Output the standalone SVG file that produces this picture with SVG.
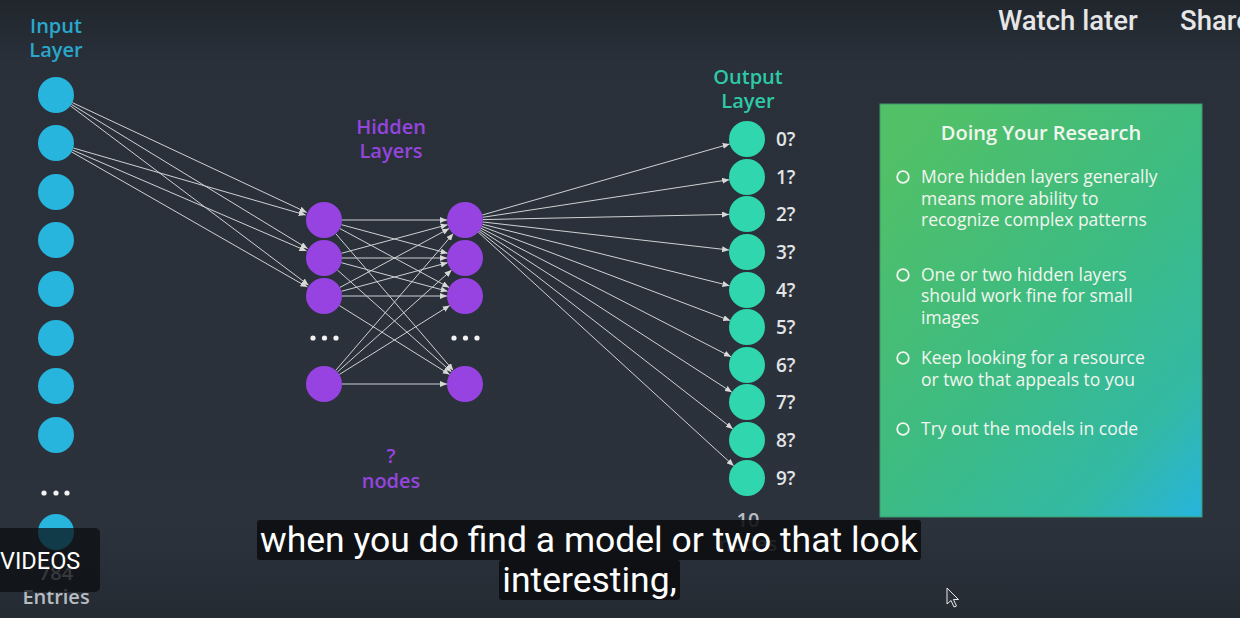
<svg xmlns="http://www.w3.org/2000/svg" width="1240" height="618" viewBox="0 0 1240 618">
<defs>
<linearGradient id="bg" x1="0" y1="0" x2="0" y2="1">
<stop offset="0" stop-color="#20262c"/>
<stop offset="0.1" stop-color="#29303a"/>
<stop offset="0.85" stop-color="#2b323c"/>
<stop offset="1" stop-color="#252b33"/>
</linearGradient>
<linearGradient id="panel" x1="0.15" y1="0" x2="1" y2="1">
<stop offset="0" stop-color="#52c066"/>
<stop offset="0.5" stop-color="#3cbb84"/>
<stop offset="0.8" stop-color="#33b9a4"/>
<stop offset="1" stop-color="#27b4dd"/>
</linearGradient>
<marker id="ah" markerUnits="userSpaceOnUse" markerWidth="7" markerHeight="6" refX="7" refY="3" orient="auto">
<path d="M0,0 L7,3 L0,6 z" fill="#d8d8d8"/>
</marker>
<style>
.lbl{font-family:"Open Sans","Liberation Sans",sans-serif;font-size:20px;font-weight:600;text-anchor:middle}
.in{fill:#27b4dd}
.hid{fill:#9643e2}
.out{fill:#2fd6ae}
.dot{fill:#f2f2f2}
.num{font-family:"Open Sans","Liberation Sans",sans-serif;font-size:19px;font-weight:600;fill:#e2e4e6}
.edge line{stroke:#cfd2d4;stroke-width:1;marker-end:url(#ah)}
.ptxt{font-family:"Open Sans","Liberation Sans",sans-serif;font-size:17.5px;fill:#f2f6ef}
.bul{fill:none;stroke:#f2f6ef;stroke-width:1.8}
.sub{font-family:Roboto,"Liberation Sans",sans-serif;font-size:35.5px;fill:#ffffff;text-anchor:middle}
.subbox{fill:#0b0d0f;fill-opacity:0.88}
.yt{font-family:Roboto,"Liberation Sans",sans-serif;font-size:27.5px;font-weight:500;fill:#e6e6e6}
</style>
</defs>
<rect width="1240" height="618" fill="url(#bg)"/>

<g id="labels">
<text class="lbl" x="56" y="33" fill="#2aa7cc">Input</text>
<text class="lbl" x="56" y="57" fill="#2aa7cc">Layer</text>
<text class="lbl" x="391" y="134" fill="#9445dc">Hidden</text>
<text class="lbl" x="391" y="158" fill="#9445dc">Layers</text>
<text class="lbl" x="748" y="84" fill="#2ec9a6">Output</text>
<text class="lbl" x="748" y="108" fill="#2ec9a6">Layer</text>
<text class="lbl" x="391" y="463" fill="#9445dc" font-size="18">?</text>
<text class="lbl" x="391" y="488" fill="#9445dc">nodes</text>
<text class="lbl" x="56" y="580" fill="#a9aeb4">784</text>
<text class="lbl" x="56" y="604" fill="#b8bcc1">Entries</text>
<text class="lbl" x="748" y="527" fill="#b8bcc1">10</text>
<text class="lbl" x="748" y="551" fill="#b8bcc1">nodes</text>
</g>

<g id="connectors" class="edge">
<line x1="72.3" y1="102.6" x2="306.7" y2="212.4"/>
<line x1="71.4" y1="104.4" x2="307.6" y2="248.6"/>
<line x1="70.4" y1="105.8" x2="308.6" y2="285.2"/>
<line x1="73.3" y1="148" x2="305.7" y2="215"/>
<line x1="72.5" y1="150.1" x2="306.5" y2="250.9"/>
<line x1="71.6" y1="151.9" x2="307.4" y2="287.1"/>

<line x1="342" y1="220" x2="447" y2="220"/>
<line x1="341.4" y1="224.7" x2="447.6" y2="253.3"/>
<line x1="339.8" y1="228.5" x2="449.2" y2="287.5"/>
<line x1="335.7" y1="233.6" x2="453.3" y2="370.4"/>
<line x1="341.4" y1="253.3" x2="447.6" y2="224.7"/>
<line x1="342" y1="258" x2="447" y2="258"/>
<line x1="341.4" y1="262.7" x2="447.6" y2="291.3"/>
<line x1="337.4" y1="270" x2="451.6" y2="372"/>
<line x1="339.8" y1="287.5" x2="449.2" y2="228.5"/>
<line x1="341.4" y1="291.3" x2="447.6" y2="262.7"/>
<line x1="342" y1="296" x2="447" y2="296"/>
<line x1="339.3" y1="305.5" x2="449.7" y2="374.5"/>
<line x1="335.7" y1="370.4" x2="453.3" y2="233.6"/>
<line x1="337.4" y1="372" x2="451.6" y2="270"/>
<line x1="339.3" y1="374.5" x2="449.7" y2="305.5"/>
<line x1="342" y1="384" x2="447" y2="384"/>

<line x1="482.3" y1="215" x2="729.7" y2="144"/>
<line x1="482.8" y1="217.3" x2="729.2" y2="179.7"/>
<line x1="483" y1="219.6" x2="729" y2="214.4"/>
<line x1="482.9" y1="222" x2="729.1" y2="250"/>
<line x1="482.5" y1="224.3" x2="729.5" y2="285.7"/>
<line x1="481.8" y1="226.4" x2="730.2" y2="320.6"/>
<line x1="481" y1="228.2" x2="731" y2="356.8"/>
<line x1="480.1" y1="229.8" x2="731.9" y2="392.2"/>
<line x1="479.2" y1="231.1" x2="732.8" y2="428.9"/>
<line x1="478.3" y1="232.2" x2="733.7" y2="465.8"/>
</g>

<g id="input-layer">
<circle id="in1" class="in" cx="56" cy="95" r="18"/>
<circle id="in2" class="in" cx="56" cy="143" r="18"/>
<circle id="in3" class="in" cx="56" cy="192" r="18"/>
<circle id="in4" class="in" cx="56" cy="240" r="18"/>
<circle id="in5" class="in" cx="56" cy="289" r="18"/>
<circle id="in6" class="in" cx="56" cy="338" r="18"/>
<circle id="in7" class="in" cx="56" cy="386" r="18"/>
<circle id="in8" class="in" cx="56" cy="435" r="18"/>
<g id="in-dots"><circle class="dot" cx="44" cy="493" r="2.6"/><circle class="dot" cx="56" cy="493" r="2.6"/><circle class="dot" cx="67" cy="493" r="2.6"/></g>
<circle id="in784" class="in" cx="56" cy="532" r="18"/>
</g>

<g id="hidden-layer-1">
<circle id="h1a" class="hid" cx="324" cy="220" r="18"/>
<circle id="h1b" class="hid" cx="324" cy="258" r="18"/>
<circle id="h1c" class="hid" cx="324" cy="296" r="18"/>
<g id="h1-dots"><circle class="dot" cx="313" cy="338" r="2.6"/><circle class="dot" cx="324.5" cy="338" r="2.6"/><circle class="dot" cx="336" cy="338" r="2.6"/></g>
<circle id="h1n" class="hid" cx="324" cy="384" r="18"/>
</g>

<g id="hidden-layer-2">
<circle id="h2a" class="hid" cx="465" cy="220" r="18"/>
<circle id="h2b" class="hid" cx="465" cy="258" r="18"/>
<circle id="h2c" class="hid" cx="465" cy="296" r="18"/>
<g id="h2-dots"><circle class="dot" cx="454" cy="338" r="2.6"/><circle class="dot" cx="465.5" cy="338" r="2.6"/><circle class="dot" cx="477" cy="338" r="2.6"/></g>
<circle id="h2n" class="hid" cx="465" cy="384" r="18"/>
</g>

<g id="output-layer">
<g id="o0"><circle class="out" cx="747" cy="139" r="18"/><text class="num" x="776" y="146">0?</text></g>
<g id="o1"><circle class="out" cx="747" cy="177" r="18"/><text class="num" x="776" y="184">1?</text></g>
<g id="o2"><circle class="out" cx="747" cy="214" r="18"/><text class="num" x="776" y="221">2?</text></g>
<g id="o3"><circle class="out" cx="747" cy="252" r="18"/><text class="num" x="776" y="259">3?</text></g>
<g id="o4"><circle class="out" cx="747" cy="290" r="18"/><text class="num" x="776" y="297">4?</text></g>
<g id="o5"><circle class="out" cx="747" cy="327" r="18"/><text class="num" x="776" y="334">5?</text></g>
<g id="o6"><circle class="out" cx="747" cy="365" r="18"/><text class="num" x="776" y="372">6?</text></g>
<g id="o7"><circle class="out" cx="747" cy="402" r="18"/><text class="num" x="776" y="409">7?</text></g>
<g id="o8"><circle class="out" cx="747" cy="440" r="18"/><text class="num" x="776" y="447">8?</text></g>
<g id="o9"><circle class="out" cx="747" cy="478" r="18"/><text class="num" x="776" y="485">9?</text></g>
</g>

<g id="research-panel">
<rect x="880" y="104" width="322" height="413" fill="url(#panel)" stroke="#3f9a6c" stroke-width="1"/>
<text x="1041" y="140" text-anchor="middle" font-family="'Open Sans','Liberation Sans',sans-serif" font-size="20" font-weight="600" fill="#f2f6ef">Doing Your Research</text>
<circle class="bul" cx="903" cy="177" r="5.8"/>
<text class="ptxt" x="921" y="183">More hidden layers generally</text>
<text class="ptxt" x="921" y="205">means more ability to</text>
<text class="ptxt" x="921" y="226">recognize complex patterns</text>
<circle class="bul" cx="903" cy="275" r="5.8"/>
<text class="ptxt" x="921" y="281">One or two hidden layers</text>
<text class="ptxt" x="921" y="302">should work fine for small</text>
<text class="ptxt" x="921" y="324">images</text>
<circle class="bul" cx="903" cy="358" r="5.8"/>
<text class="ptxt" x="921" y="364">Keep looking for a resource</text>
<text class="ptxt" x="921" y="386">or two that appeals to you</text>
<circle class="bul" cx="903" cy="429" r="5.8"/>
<text class="ptxt" x="921" y="435">Try out the models in code</text>
</g>

<g id="player-overlay">
<text class="yt" x="998" y="30">Watch later</text>
<text class="yt" x="1180" y="30">Share</text>
<rect x="-6" y="528" width="106" height="64" rx="5" fill="#0b0d0f" fill-opacity="0.72"/>
<text x="0" y="569" font-family="Roboto,'Liberation Sans',sans-serif" font-size="23.5" fill="#ffffff">VIDEOS</text>
<rect class="subbox" x="257" y="520" width="664" height="40" rx="3"/>
<text class="sub" x="589" y="552">when you do find a model or two that look</text>
<rect class="subbox" x="499" y="560" width="181" height="40" rx="3"/>
<text class="sub" x="589.5" y="592">interesting,</text>
<path d="M947,588 L947,604 L951,600.5 L954,607 L956.5,606 L953.5,599.5 L958.5,599.5 Z" fill="#2b323c" stroke="#e8e8e8" stroke-width="1"/>
</g>
</svg>
